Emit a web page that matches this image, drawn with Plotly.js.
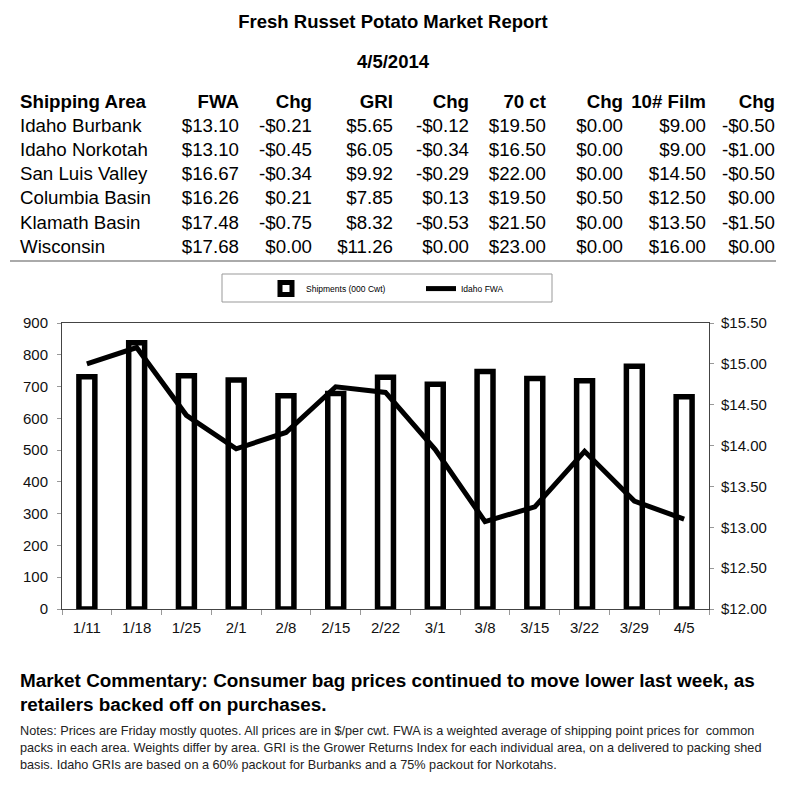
<!DOCTYPE html>
<html>
<head>
<meta charset="utf-8">
<script src="https://cdn.plot.ly/plotly-3.0.1.min.js"></script>
<style>
  html, body { margin:0; padding:0; background:#fff; }
  body { width:800px; height:789px; position:relative; overflow:hidden; font-family:"Liberation Sans", Arial, sans-serif; color:#000; }
  #chart { position:absolute; left:0; top:0; width:800px; height:789px; z-index:0; }
  .t { position:absolute; white-space:nowrap; z-index:2; line-height:24px; }
  .c { position:absolute; white-space:nowrap; z-index:2; line-height:24px; font-size:18.7px; }
  .r { text-align:right; }
  .b { font-weight:bold; }
  #rule { position:absolute; left:10px; top:260px; width:766px; height:0; border-top:2px solid #aaa; z-index:2; }
</style>
</head>
<body>
<div id="chart"></div>
<div id="texts"></div>
<div id="rule"></div>
<script>
// ---- Report text ----
const reportTitle = "Fresh Russet Potato Market Report";
const reportDate = "4/5/2014";
const tableHeaders = ["Shipping Area", "FWA", "Chg", "GRI", "Chg", "70 ct", "Chg", "10# Film", "Chg"];
const areas = ["Idaho Burbank", "Idaho Norkotah", "San Luis Valley", "Columbia Basin", "Klamath Basin", "Wisconsin"];
const fwaPrice = [13.10, 13.10, 16.67, 16.26, 17.48, 17.68];
const fwaChg = [-0.21, -0.45, -0.34, 0.21, -0.75, 0.00];
const griPrice = [5.65, 6.05, 9.92, 7.85, 8.32, 11.26];
const griChg = [-0.12, -0.34, -0.29, 0.13, -0.53, 0.00];
const ct70Price = [19.50, 16.50, 22.00, 19.50, 21.50, 23.00];
const ct70Chg = [0.00, 0.00, 0.00, 0.50, 0.00, 0.00];
const filmPrice = [9.00, 9.00, 14.50, 12.50, 13.50, 16.00];
const filmChg = [-0.50, -1.00, -0.50, 0.00, -1.50, 0.00];
const commentaryLines = [
  "Market Commentary: Consumer bag prices continued to move lower last week, as",
  "retailers backed off on purchases."
];
const noteLines = [
  "Notes: Prices are Friday mostly quotes. All prices are in $/per cwt. FWA is a weighted average of shipping point prices for\u00a0 common",
  "packs in each area. Weights differ by area. GRI is the Grower Returns Index for each individual area, on a delivered to packing shed",
  "basis. Idaho GRIs are based on a 60% packout for Burbanks and a 75% packout for Norkotahs."
];

// ---- Chart data ----
const weeks = ["1/11", "1/18", "1/25", "2/1", "2/8", "2/15", "2/22", "3/1", "3/8", "3/15", "3/22", "3/29", "4/5"];
const shipments = [731, 838, 734, 721, 671, 678, 729, 707, 747, 725, 718, 764, 668];
const idahoFWA = [15.00, 15.20, 14.37, 13.96, 14.16, 14.72, 14.65, 13.95, 13.07, 13.25, 13.93, 13.32, 13.10];

// ---- Build HTML text ----
const box = document.getElementById('texts');
function add(cls, text, style) {
  const d = document.createElement('div');
  d.className = cls;
  d.textContent = text;
  Object.assign(d.style, style);
  box.appendChild(d);
}
add('t b', reportTitle, {left:'0px', width:'786px', textAlign:'center', top:'10px', fontSize:'18.5px'});
add('t b', reportDate, {left:'0px', width:'786px', textAlign:'center', top:'50px', fontSize:'18.5px'});

const money = v => (v < 0 ? '-' : '') + '$' + Math.abs(v).toFixed(2);
const colRight = [null, 239, 312, 393, 469, 546, 623, 706, 775];
const rowTop0 = 90, rowStep = 24.1;
tableHeaders.forEach((h, i) => {
  if (i === 0) add('c b', h, {left:'20px', top: rowTop0 + 'px'});
  else add('c b r', h, {right:(800 - colRight[i]) + 'px', top: rowTop0 + 'px'});
});
const cols = [fwaPrice, fwaChg, griPrice, griChg, ct70Price, ct70Chg, filmPrice, filmChg];
areas.forEach((a, r) => {
  const top = (rowTop0 + rowStep * (r + 1)) + 'px';
  add('c', a, {left:'20px', top});
  cols.forEach((col, j) => {
    add('c r', money(col[r]), {right:(800 - colRight[j + 1]) + 'px', top});
  });
});
commentaryLines.forEach((l, i) => add('t b', l, {left:'20px', top:(669 + i * 24) + 'px', fontSize:'18.9px'}));
noteLines.forEach((l, i) => add('t', l, {left:'20px', top:(723 + i * 17) + 'px', fontSize:'12.7px', lineHeight:'17px', color:'#222'}));

// ---- Chart ----
const fontFam = '"Liberation Sans", Arial, sans-serif';
const traces = [
  {
    type: 'bar', name: 'Shipments (000 Cwt)', x: weeks, y: shipments,
    width: 0.32,
    marker: {color: '#ffffff', line: {color: '#000000', width: 5.5}},
    hoverinfo: 'skip'
  },
  {
    type: 'scatter', mode: 'lines', name: 'Idaho FWA', x: weeks, y: idahoFWA, yaxis: 'y2',
    line: {color: '#000000', width: 5},
    hoverinfo: 'skip'
  }
];
const layout = {
  width: 800, height: 789,
  margin: {l: 62, r: 91, t: 323, b: 180, pad: 0},
  paper_bgcolor: 'rgba(0,0,0,0)', plot_bgcolor: '#ffffff',
  font: {family: fontFam, color: '#000'},
  showlegend: true,
  legend: {
    orientation: 'h', x: 0.3153, y: 1.171, xanchor: 'left', yanchor: 'top',
    borderwidth: 0, bgcolor: 'rgba(0,0,0,0)',
    font: {family: fontFam, size: 8.5, color: '#000'},
    entrywidth: 110, traceorder: 'normal'
  },
  shapes: [
    {type: 'rect', xref: 'paper', yref: 'paper',
     x0: (222 - 62) / 647, x1: (552 - 62) / 647,
     y0: 1 + (323 - 302) / 286, y1: 1 + (323 - 274) / 286,
     line: {color: '#999', width: 1}, fillcolor: 'rgba(0,0,0,0)', layer: 'below'}
  ],
  xaxis: {
    type: 'category', tickson: 'boundaries', ticks: 'outside', ticklen: 5, tickcolor: '#999',
    showline: true, linecolor: '#444', linewidth: 1, mirror: true,
    showgrid: false, zeroline: false, ticklabelstandoff: 5,
    tickfont: {family: fontFam, size: 15, color: '#111'}
  },
  yaxis: {
    range: [0, 900], dtick: 100, ticks: 'outside', ticklen: 4, tickcolor: '#999',
    showline: true, linecolor: '#444', linewidth: 1,
    showgrid: false, zeroline: false, ticklabelstandoff: 6,
    tickfont: {family: fontFam, size: 15, color: '#111'}
  },
  yaxis2: {
    overlaying: 'y', side: 'right', range: [12, 15.5], dtick: 0.5,
    tickprefix: '$', tickformat: '.2f', ticks: 'outside', ticklen: 4, tickcolor: '#999',
    showline: true, linecolor: '#444', linewidth: 1,
    showgrid: false, zeroline: false, ticklabelstandoff: 4,
    tickfont: {family: fontFam, size: 15, color: '#111'}
  }
};
Plotly.newPlot('chart', traces, layout, {staticPlot: true, displayModeBar: false});
</script>
</body>
</html>
